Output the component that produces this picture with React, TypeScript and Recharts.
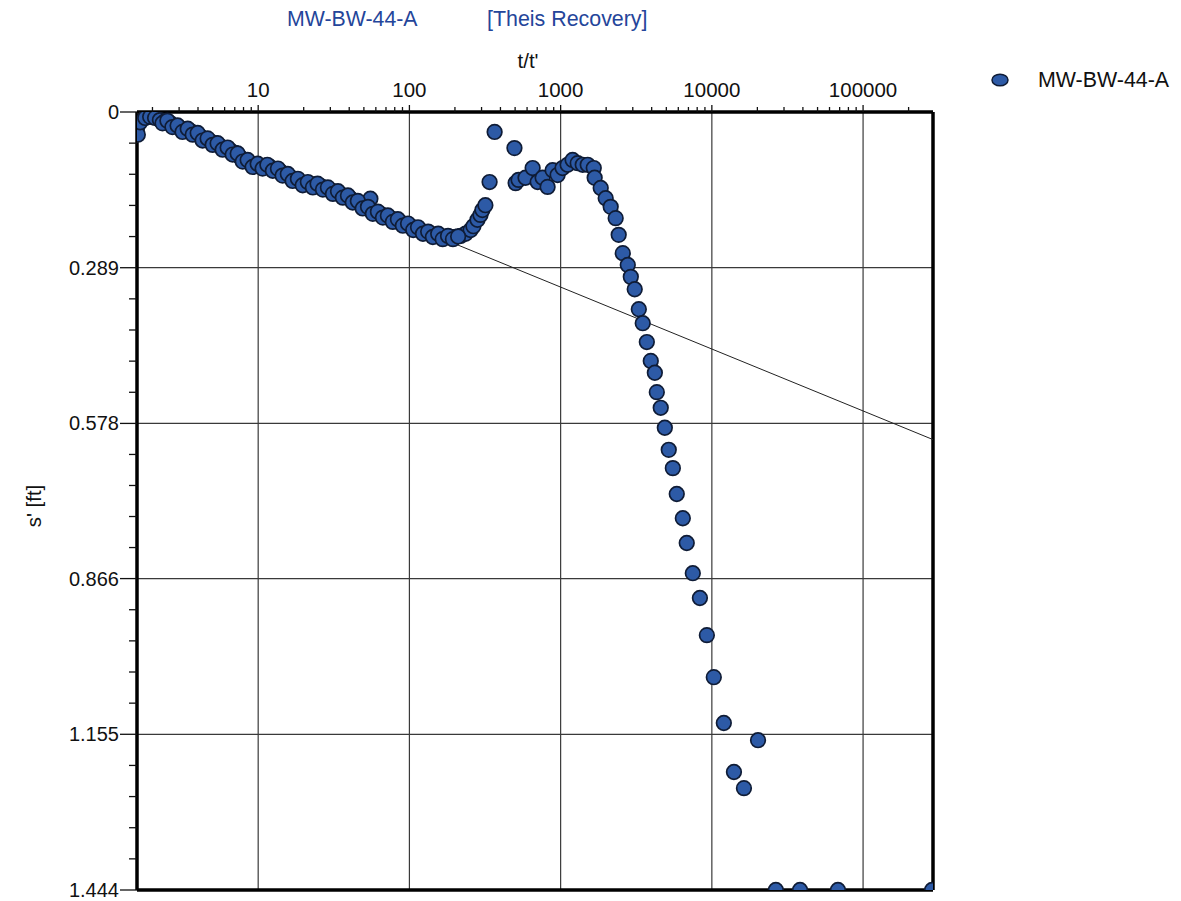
import React from "react";
import {
  CartesianGrid,
  ComposedChart,
  ReferenceLine,
  Scatter,
  XAxis,
  YAxis,
} from "recharts";

// t/t' and s' [ft] for MW-BW-44-A
const ratio = [
  1.58, 1.6, 1.66, 1.79, 1.93, 2.08, 2.24, 2.42, 2.61, 2.82, 3.04, 3.29, 3.55,
  3.83, 4.13, 4.46, 4.81, 5.19, 5.6, 6.04, 6.53, 7.05, 7.6, 8.2, 8.85, 9.55,
  10.3, 11.1, 12.0, 13.0, 14.0, 15.1, 16.3, 17.6, 19.0, 20.5, 22.1, 23.8, 25.8,
  27.8, 30.0, 32.4, 34.9, 37.7, 40.6, 43.9, 47.3, 51.2, 55.2, 59.6, 64.3, 69.3,
  74.8, 80.8, 87.1, 94.2, 102, 110, 118, 128, 138, 149, 160, 173, 187, 202, 218,
  235, 254, 265, 282, 295, 304, 318, 339, 366, 495, 55.2, 504, 527, 586, 653,
  705, 760, 820, 885, 955, 1030, 1112, 1200, 1297, 1400, 1510, 1656, 1679,
  1841, 1986, 2143, 2312, 2421, 2576, 2780, 2911, 3090, 3289, 3491, 3715, 3945,
  4198, 4325, 4592, 4887, 5188, 5521, 5861, 6427, 6823, 7482, 8337, 9268,
  10300, 12000, 20200, 14000, 16300, 26500, 38300, 68200, 286000,
  // in-between readings of the dense early band
  2.33, 2.51, 2.71, 2.93, 3.16, 3.42, 3.69, 3.98, 4.29, 4.63, 5.0, 5.39, 5.82,
  6.28, 6.78, 7.32, 7.9, 8.52, 9.19, 9.92, 10.7, 11.5, 12.5, 13.5, 14.5, 15.7,
  16.9, 18.3, 19.7, 21.3, 23.0, 24.7, 26.8, 28.9, 31.2, 33.7, 36.3, 39.2, 42.2,
  45.6, 49.1, 53.2, 57.3, 61.9, 66.8, 72.0, 77.7, 83.9, 90.5, 97.9, 106, 114,
  123, 133, 143, 155, 166, 180, 194, 210,
];
const drawdown = [
  0.03, 0.042, 0.019, 0.011, 0.009, 0.011, 0.015, 0.017, 0.02, 0.026, 0.03,
  0.033, 0.035, 0.039, 0.045, 0.05, 0.054, 0.058, 0.063, 0.067, 0.071, 0.076,
  0.084, 0.089, 0.095, 0.098, 0.1, 0.1, 0.102, 0.106, 0.11, 0.115, 0.121, 0.124,
  0.13, 0.132, 0.134, 0.135, 0.137, 0.141, 0.145, 0.148, 0.152, 0.156, 0.16,
  0.165, 0.171, 0.176, 0.182, 0.186, 0.189, 0.193, 0.197, 0.2, 0.204, 0.208,
  0.212, 0.215, 0.219, 0.223, 0.226, 0.228, 0.23, 0.232, 0.232, 0.232, 0.23,
  0.226, 0.219, 0.212, 0.2, 0.191, 0.182, 0.173, 0.13, 0.037, 0.067, 0.161,
  0.132, 0.126, 0.122, 0.104, 0.13, 0.122, 0.139, 0.108, 0.117, 0.104, 0.098,
  0.089, 0.095, 0.098, 0.098, 0.104, 0.122, 0.141, 0.16, 0.176, 0.197, 0.228,
  0.262, 0.284, 0.306, 0.329, 0.366, 0.392, 0.427, 0.462, 0.484, 0.52, 0.549,
  0.586, 0.627, 0.661, 0.709, 0.754, 0.8, 0.856, 0.902, 0.971, 1.049, 1.134,
  1.166, 1.225, 1.255, 1.444, 1.444, 1.444, 1.444,
  // in-between readings of the dense early band
  0.021, 0.016, 0.028, 0.025, 0.037, 0.031, 0.042, 0.039, 0.053, 0.049, 0.061,
  0.058, 0.07, 0.066, 0.079, 0.077, 0.092, 0.089, 0.102, 0.096, 0.105, 0.098,
  0.109, 0.105, 0.118, 0.115, 0.128, 0.124, 0.136, 0.13, 0.14, 0.133, 0.144,
  0.14, 0.152, 0.147, 0.159, 0.155, 0.168, 0.165, 0.179, 0.176, 0.189, 0.185,
  0.196, 0.192, 0.204, 0.199, 0.211, 0.207, 0.219, 0.214, 0.226, 0.222, 0.232,
  0.226, 0.236, 0.23, 0.236, 0.231,
];

// Theis recovery straight-line fit
const fitRatio = [1.58, 290000];
const fitDrawdown = [0.003, 0.608];

const xTickLabels = ["10", "100", "1000", "10000", "100000"];
const yTickLabels = ["0", "0.289", "0.578", "0.866", "1.155", "1.444"];

const X_MIN = 1.58;
const X_MAX = 290000;
const Y_MAX = 1.444;

const W = 1181;
const H = 901;
const PLOT_LEFT = 137;
const PLOT_TOP = 112;
const FONT = "Arial, 'Liberation Sans', sans-serif";
const BLUE_TEXT = "#24459a";

const points = ratio.map((t, i) => ({ t, s: drawdown[i] }));
const fitLine = fitRatio.map((t, i) => ({ t, s: fitDrawdown[i] }));

const xMajor = xTickLabels.map(Number);
const xMinor: number[] = [];
for (let d = 1; d <= 100000; d *= 10) {
  for (let m = 2; m <= 9; m++) {
    const v = m * d;
    if (v > X_MIN && v < X_MAX) xMinor.push(v);
  }
}
const xTicks = [...xMajor, ...xMinor].sort((a, b) => a - b);

const yMajor = yTickLabels.map(Number);
const yMinor: number[] = [];
for (let i = 0; i < yMajor.length - 1; i++) {
  const step = (yMajor[i + 1] - yMajor[i]) / 5;
  for (let k = 1; k < 5; k++) yMinor.push(yMajor[i] + step * k);
}
const yTicks = [...yMajor, ...yMinor].sort((a, b) => a - b);

const XTick = (props: any) => {
  const { x, payload } = props;
  const idx = xMajor.indexOf(payload.value);
  const major = idx >= 0;
  return (
    <g>
      <line
        x1={x}
        x2={x}
        y1={PLOT_TOP}
        y2={PLOT_TOP - (major ? 7 : 5)}
        stroke="#111"
        strokeWidth={1.3}
      />
      {major && (
        <text x={x} y={97} textAnchor="middle" fontSize={20.5} fontFamily={FONT} fill="#111">
          {xTickLabels[idx]}
        </text>
      )}
    </g>
  );
};

const YTick = (props: any) => {
  const { y, payload } = props;
  const idx = yMajor.indexOf(payload.value);
  const major = idx >= 0;
  return (
    <g>
      <line
        x1={PLOT_LEFT}
        x2={PLOT_LEFT - (major ? 17 : 8)}
        y1={y}
        y2={y}
        stroke="#111"
        strokeWidth={1.3}
      />
      {major && (
        <text
          x={119}
          y={y}
          textAnchor="end"
          dominantBaseline="central"
          fontSize={20}
          fontFamily={FONT}
          fill="#111"
        >
          {yTickLabels[idx]}
        </text>
      )}
    </g>
  );
};

const Dot = (p: any) => (
  <circle cx={p.cx} cy={p.cy} r={7.3} fill="#2d5aa6" stroke="#0f1c36" strokeWidth={1.7} />
);

export default function App() {
  return (
    <div style={{ position: "absolute", left: 0, top: 0, width: W, height: H, background: "#fff" }}>
      <ComposedChart
        width={W}
        height={H}
        margin={{ top: 0, right: W - 933, bottom: 11, left: 0 }}
      >
        <CartesianGrid
          stroke="#3a3a3a"
          strokeWidth={1.2}
          verticalValues={xMajor}
          horizontalValues={yMajor}
        />
        <XAxis
          type="number"
          dataKey="t"
          scale="log"
          domain={[X_MIN, X_MAX]}
          allowDataOverflow
          orientation="top"
          height={PLOT_TOP}
          ticks={xTicks}
          interval={0}
          tick={<XTick />}
          tickLine={false}
          axisLine={{ stroke: "#000", strokeWidth: 3.5 }}
        />
        <YAxis
          type="number"
          dataKey="s"
          domain={[0, Y_MAX]}
          reversed
          allowDataOverflow
          width={PLOT_LEFT}
          ticks={yTicks}
          interval={0}
          tick={<YTick />}
          tickLine={false}
          axisLine={{ stroke: "#000", strokeWidth: 3.5 }}
        />
        <ReferenceLine x={X_MAX} stroke="#000" strokeWidth={3.5} />
        <ReferenceLine y={Y_MAX} stroke="#000" strokeWidth={3.5} />
        <Scatter
          data={fitLine}
          line={{ stroke: "#222", strokeWidth: 1 }}
          shape={() => <g />}
          isAnimationActive={false}
        />
        <Scatter data={points} shape={<Dot />} isAnimationActive={false} />
      </ComposedChart>
      <svg
        width={W}
        height={H}
        style={{ position: "absolute", left: 0, top: 0, pointerEvents: "none" }}
      >
        <text x={287} y={26} fontSize={21.3} fontFamily={FONT} fill={BLUE_TEXT}>
          MW-BW-44-A
        </text>
        <text x={487} y={26} fontSize={21.4} fontFamily={FONT} fill={BLUE_TEXT}>
          [Theis Recovery]
        </text>
        <text x={528} y={68} textAnchor="middle" fontSize={20.5} fontFamily={FONT} fill="#111">
          t/t'
        </text>
        <text
          x={33}
          y={506}
          textAnchor="middle"
          dominantBaseline="central"
          fontSize={20.5}
          fontFamily={FONT}
          fill="#111"
          transform="rotate(-90 33 506)"
        >
          s' [ft]
        </text>
        <ellipse cx={1000} cy={80} rx={8} ry={5.8} fill="#2d5aa6" stroke="#0f1c36" strokeWidth={1.5} />
        <text x={1038} y={87} fontSize={21.4} fontFamily={FONT} fill="#111">
          MW-BW-44-A
        </text>
      </svg>
    </div>
  );
}
